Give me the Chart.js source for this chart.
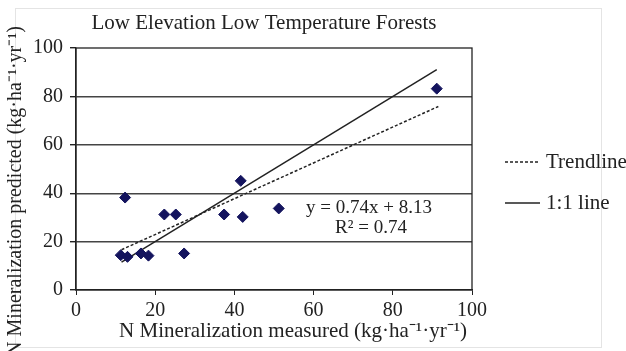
<!DOCTYPE html>
<html>
<head>
<meta charset="utf-8">
<script src="https://cdn.jsdelivr.net/npm/chart.js@4"></script>
<style>
  html, body { margin: 0; padding: 0; background: #fff; }
  #wrap { width: 626px; height: 351px; }
</style>
</head>
<body>
<div id="wrap"><canvas id="chart"></canvas></div>
<script>
// data
const measured  = [11.3, 13.0, 16.4, 18.3, 12.4, 22.3, 25.2, 27.3, 37.4, 41.6, 42.1, 51.2, 91.1];
const predicted = [14.4, 13.7, 15.1, 14.2, 38.2, 31.2, 31.2, 15.1, 31.2, 45.1, 30.2, 33.7, 83.2];

// fitted lines (endpoints of each segment)
const trendX = [11.5, 91.5];
const trendY = trendX.map(x => 0.74 * x + 8.13);
const oneX = [11.5, 91.1];
const oneY = [11.5, 91.1];

const chartTitle = 'Low Elevation Low Temperature Forests';
const xTitle = 'N Mineralization measured (kg\u00b7ha\u207b\u00b9\u00b7yr\u207b\u00b9)';
const yTitle = 'N Mineralization predicted (kg\u00b7ha\u207b\u00b9\u00b7yr\u207b\u00b9)';
const eqLines = ['y = 0.74x + 8.13', 'R\u00b2 = 0.74'];
const seriesLabels = ['Data', 'Trendline', '1:1 line'];

const serif = "'Liberation Serif', 'Times New Roman', serif";

// draws the frame, titles, equation and legend
const extras = {
  id: 'extras',
  beforeDraw(chart) {
    const ctx = chart.ctx;
    ctx.save();
    ctx.strokeStyle = '#e4e4e4';
    ctx.lineWidth = 1;
    ctx.strokeRect(15.5, 8.5, 586, 339);
    ctx.restore();
  },
  afterDraw(chart) {
    const ctx = chart.ctx;
    const a = chart.chartArea;
    ctx.save();
    ctx.strokeStyle = '#222';
    ctx.lineWidth = 1.3;
    ctx.strokeRect(a.left, a.top, a.right - a.left, a.bottom - a.top);

    ctx.fillStyle = '#222';
    ctx.textBaseline = 'middle';
    ctx.textAlign = 'center';
    ctx.font = '21px ' + serif;
    ctx.fillText(chartTitle, 264, 23);

    ctx.font = '21px ' + serif;
    ctx.fillText(xTitle, 293, 331);
    ctx.font = '20px ' + serif;
    ctx.save();
    ctx.translate(16, 191);
    ctx.rotate(-Math.PI / 2);
    ctx.fillText(yTitle, 0, 0);
    ctx.restore();

    // equation
    ctx.font = '19px ' + serif;
    ctx.fillText(eqLines[0], 369, 208);
    ctx.fillText(eqLines[1], 371, 228);

    // legend
    const items = [
      { label: chart.data.datasets[1].label, dash: [3, 2], y: 162 },
      { label: chart.data.datasets[2].label, dash: [], y: 203 }
    ];
    ctx.textAlign = 'left';
    ctx.font = '21px ' + serif;
    items.forEach(it => {
      ctx.beginPath();
      ctx.setLineDash(it.dash);
      ctx.lineWidth = 1.3;
      ctx.moveTo(505, it.y);
      ctx.lineTo(540, it.y);
      ctx.stroke();
      ctx.setLineDash([]);
      ctx.fillText(it.label, 546, it.y);
    });
    ctx.restore();
  }
};

new Chart(document.getElementById('chart'), {
  type: 'scatter',
  data: {
    datasets: [
      {
        label: seriesLabels[0],
        data: measured.map((x, i) => ({ x: x, y: predicted[i] })),
        pointStyle: 'rectRot',
        pointRadius: 5.5,
        backgroundColor: '#14145e',
        borderColor: '#14145e',
        borderWidth: 1
      },
      {
        label: seriesLabels[1],
        type: 'line',
        data: trendX.map((x, i) => ({ x: x, y: trendY[i] })),
        borderColor: '#222',
        borderWidth: 1.5,
        borderDash: [3, 2],
        pointRadius: 0,
        fill: false
      },
      {
        label: seriesLabels[2],
        type: 'line',
        data: oneX.map((x, i) => ({ x: x, y: oneY[i] })),
        borderColor: '#222',
        borderWidth: 1.5,
        pointRadius: 0,
        fill: false
      }
    ]
  },
  options: {
    responsive: true,
    maintainAspectRatio: false,
    animation: false,
    layout: { padding: { left: 0, top: 48, right: 154, bottom: 0 } },
    plugins: {
      legend: { display: false },
      title: { display: false },
      tooltip: { enabled: false }
    },
    scales: {
      x: {
        type: 'linear',
        min: 0,
        max: 100,
        afterFit: s => { s.height = 61; },
        ticks: { stepSize: 20, color: '#222', padding: 4, font: { family: serif, size: 20 } },
        grid: { drawOnChartArea: false, drawTicks: true, tickLength: 5, tickColor: '#222' },
        border: { color: '#222', width: 1.3 }
      },
      y: {
        min: 0,
        max: 100,
        afterFit: s => { s.width = 76; },
        ticks: { stepSize: 20, color: '#222', padding: 7, font: { family: serif, size: 20 } },
        grid: {
          color: ctx => (ctx.tick.value === 0 || ctx.tick.value === 100) ? 'rgba(0,0,0,0)' : '#444',
          lineWidth: 1.4,
          drawTicks: true,
          tickLength: 6,
          tickColor: '#222'
        },
        border: { color: '#222', width: 1.3 }
      }
    }
  },
  plugins: [extras]
});
</script>
</body>
</html>
